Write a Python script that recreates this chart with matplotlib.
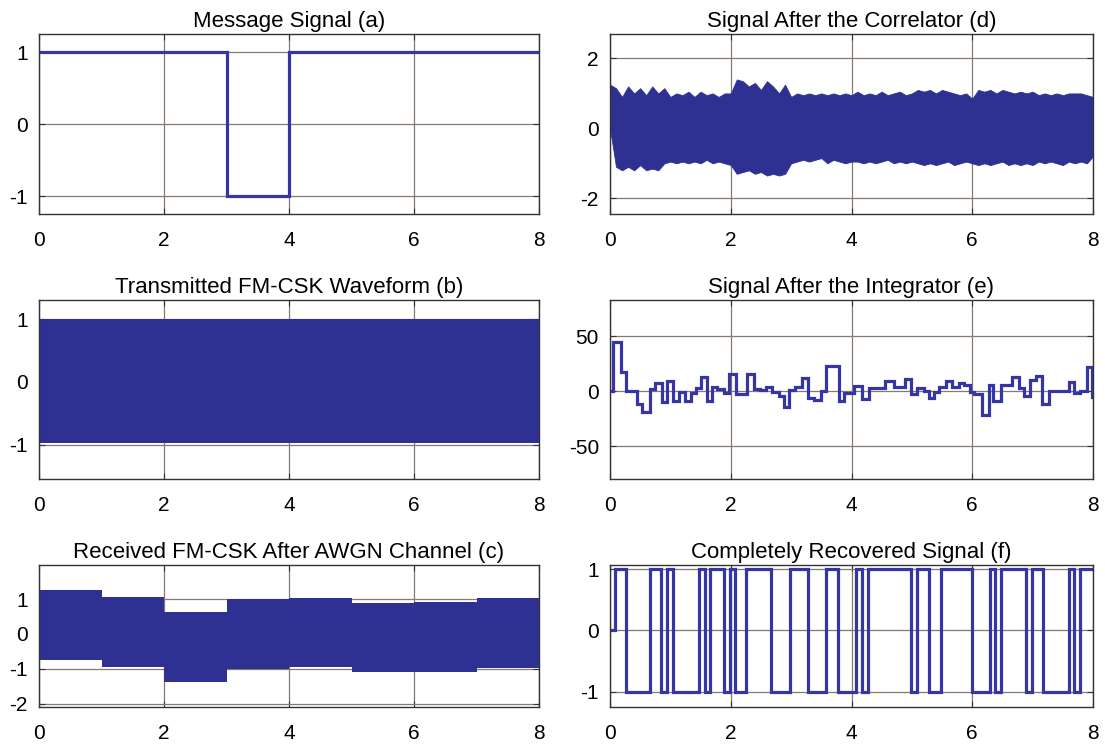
import numpy as np
import matplotlib
matplotlib.use('Agg')
import matplotlib.pyplot as plt

plt.rcParams['font.family'] = ['Liberation Sans', 'DejaVu Sans']
plt.rcParams['axes.unicode_minus'] = False

# (a) message signal
msg_edges = [0, 3, 4, 8]
msg_vals = [1, -1, 1]

# (b) transmitted FM-CSK waveform envelope
tx_t = [0, 8]
tx_hi = [1.0, 1.0]
tx_lo = [-0.97, -0.97]

# (c) received signal, envelope per bit
rx_edges = [0, 1, 2, 3, 4, 5, 6, 7, 8]
rx_hi = [1.25, 1.05, 0.62, 1.00, 1.02, 0.90, 0.92, 1.02]
rx_lo = [-0.75, -0.95, -1.38, -1.00, -0.95, -1.10, -1.08, -0.98]

# (d) correlator output envelope, read every 0.1
cor_t = np.linspace(0, 8, 81)
cor_hi = [1.25, 1.15, 0.90, 1.20, 1.00, 1.15, 0.95, 1.20, 1.00, 1.15,
          0.90, 1.00, 0.95, 1.05, 0.90, 1.05, 0.95, 1.00, 0.90, 1.00,
          1.00, 1.40, 1.35, 1.20, 1.30, 1.10, 1.35, 1.20, 1.00, 1.25,
          0.90, 1.00, 0.95, 1.00, 0.95, 1.00, 0.95, 1.00, 0.95, 1.00,
          0.95, 1.05, 0.95, 1.00, 0.95, 1.05, 0.95, 1.00, 1.05, 0.95,
          1.00, 1.10, 1.05, 1.10, 1.00, 1.10, 1.05, 1.00, 0.95, 1.00,
          0.85, 1.10, 1.05, 1.10, 1.00, 1.10, 1.05, 1.00, 1.05, 1.00,
          1.05, 0.95, 1.00, 0.95, 1.00, 0.95, 1.00, 1.00, 1.00, 0.95,
          0.90]
cor_lo = [0.00, -1.10, -1.20, -1.10, -1.20, -1.05, -1.20, -1.15, -1.20, -1.00,
          -0.95, -1.00, -0.95, -1.00, -0.95, -1.00, -0.90, -1.00, -0.95, -1.00,
          -1.05, -1.30, -1.25, -1.20, -1.30, -1.25, -1.35, -1.30, -1.35, -1.30,
          -1.00, -0.95, -0.90, -0.95, -0.90, -0.85, -1.00, -0.90, -0.95, -1.00,
          -0.95, -0.95, -1.00, -0.95, -1.00, -0.95, -0.90, -1.00, -0.95, -1.00,
          -0.95, -1.00, -1.05, -1.00, -1.05, -1.00, -0.95, -1.05, -1.00, -0.95,
          -1.00, -1.05, -1.00, -1.05, -1.00, -0.95, -1.05, -1.00, -1.05, -1.00,
          -1.05, -0.95, -1.00, -0.95, -1.00, -1.05, -0.95, -1.00, -0.95, -1.00,
          -0.80]

# (e) integrator output
int_edges = [0.00, 0.05, 0.18, 0.26, 0.45, 0.53, 0.67, 0.75, 0.86, 0.95,
             1.05, 1.14, 1.24, 1.34, 1.42, 1.50, 1.60, 1.69, 1.78, 1.89,
             1.97, 2.08, 2.27, 2.38, 2.49, 2.58, 2.69, 2.80, 2.88, 2.97,
             3.07, 3.18, 3.28, 3.38, 3.49, 3.57, 3.79, 3.87, 4.04, 4.18,
             4.29, 4.56, 4.70, 4.89, 4.98, 5.09, 5.20, 5.28, 5.36, 5.45,
             5.56, 5.67, 5.78, 5.86, 5.97, 6.03, 6.16, 6.27, 6.35, 6.47,
             6.66, 6.77, 6.85, 6.96, 7.05, 7.16, 7.27, 7.60, 7.68, 7.79,
             7.90, 7.99, 8.00]
int_vals = [0, 45, 17, 0, -12, -19, 2, 7, -10, 9,
            -9, -1, -9, -2, 3, 13, -9, 4, 2, -2,
            16, -3, 16, 2, 1, 4, -1, -4, -14, 1,
            4, 12, -6, -8, 0, 23, -9, -2, 5, -7,
            3, 9, 4, 11, -3, 3, 0, -6, -1, 4,
            9, 4, 7, 6, -1, -3, -22, 6, -9, 6,
            13, 3, -4, 10, 14, -12, 0, 8, -2, 0,
            22, -5]

# (f) recovered bits
rec_edges = [0, 0.077, 0.26, 0.67, 0.84, 0.94, 1.04, 1.47, 1.57, 1.66,
             1.88, 1.98, 2.07, 2.25, 2.67, 2.98, 3.28, 3.58, 3.77, 4.07,
             4.17, 4.28, 4.99, 5.09, 5.29, 5.49, 6.00, 6.30, 6.37, 6.48,
             6.89, 6.99, 7.17, 7.60, 7.68, 7.79, 8.00]
rec_vals = [0, 1, -1, 1, -1, 1, -1, 1, -1, 1,
            -1, 1, -1, 1, -1, 1, -1, 1, -1, 1,
            -1, 1, -1, 1, -1, 1, -1, 1, -1, 1,
            -1, 1, -1, 1, -1, 1]

fill_c = '#2E3192'
line_c = '#3535A5'
W, H = 1105, 747


def make_ax(fig, x0, x1, top, bottom, title, ylim, yticks):
    ax = fig.add_axes([x0 / W, 1 - bottom / H, (x1 - x0) / W, (bottom - top) / H])
    ax.set_xlim(0, 8)
    ax.set_ylim(*ylim)
    ax.set_xticks([0, 2, 4, 6, 8])
    ax.set_yticks(yticks)
    ax.grid(True, color='#857a70', linewidth=0.9)
    ax.set_axisbelow(True)
    ax.tick_params(direction='in', top=True, right=True, labelsize=15,
                   length=4, color='#333333', pad=8)
    ax.tick_params(axis='x', pad=12)
    for s in ax.spines.values():
        s.set_color('#333333')
        s.set_linewidth(1.0)
        s.set_zorder(5)
    ax.set_title(title, fontsize=16, pad=5)
    return ax


fig = plt.figure(figsize=(11.05, 7.47), dpi=100)

ax = make_ax(fig, 39, 539, 34, 214, 'Message Signal (a)', (-1.25, 1.25), [-1, 0, 1])
ax.stairs(msg_vals, msg_edges, baseline=None, color=line_c, linewidth=2.3)

ax = make_ax(fig, 39, 539, 300, 479, 'Transmitted FM-CSK Waveform (b)', (-1.55, 1.31), [-1, 0, 1])
ax.fill_between(tx_t, tx_lo, tx_hi, color=fill_c, linewidth=0)

ax = make_ax(fig, 39, 539, 565, 707, 'Received FM-CSK After AWGN Channel (c)', (-2.1, 1.98), [-2, -1, 0, 1])
ax.stairs(rx_hi, rx_edges, baseline=rx_lo, fill=True, color=fill_c, linewidth=0)

ax = make_ax(fig, 610, 1093, 34, 214, 'Signal After the Correlator (d)', (-2.45, 2.7), [-2, 0, 2])
ax.fill_between(cor_t, cor_lo, cor_hi, color=fill_c, linewidth=0.6, edgecolor=fill_c)

ax = make_ax(fig, 610, 1093, 300, 479, 'Signal After the Integrator (e)', (-80, 83), [-50, 0, 50])
ax.stairs(int_vals, int_edges, baseline=None, color=line_c, linewidth=2.3)

ax = make_ax(fig, 610, 1093, 565, 707, 'Completely Recovered Signal (f)', (-1.25, 1.07), [-1, 0, 1])
ax.stairs(rec_vals, rec_edges, baseline=None, color=line_c, linewidth=2.3)

fig.savefig('out.png', dpi=100)
